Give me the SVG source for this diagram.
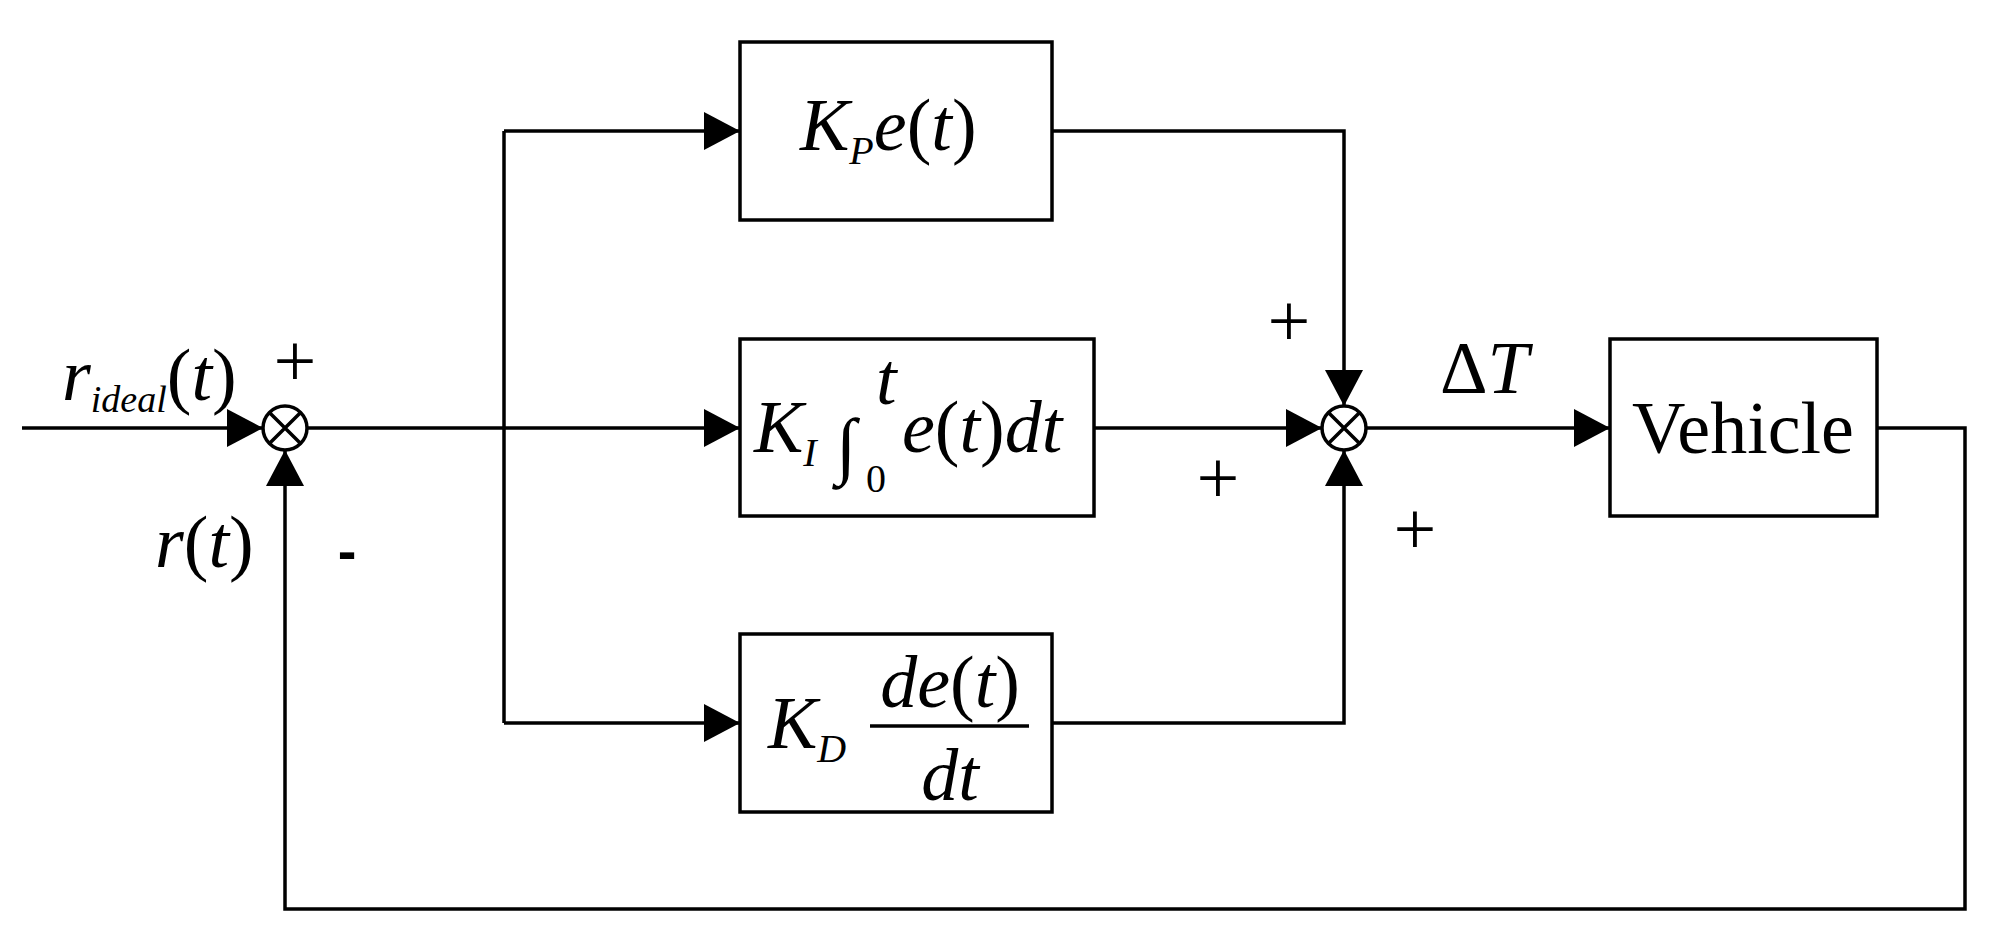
<svg xmlns="http://www.w3.org/2000/svg" width="2003" height="947" viewBox="0 0 2003 947">
<style>
.l{fill:none;stroke:#000;stroke-width:3.5}
.b{fill:#fff;stroke:#000;stroke-width:3.5}
text{font-family:'Liberation Serif','Times New Roman','DejaVu Serif',serif}
.m{font-style:italic;font-size:74px}
.r{font-size:74px}
.p{font-size:76px}
.n{font-style:normal}
</style>
<defs>
<marker id="a" markerWidth="36" markerHeight="38" refX="36" refY="19" orient="auto" markerUnits="userSpaceOnUse"><path d="M0,0L36,19L0,38z"/></marker>
</defs>
<rect width="2003" height="947" fill="#fff"/>
<g id="connectors">
<path class="l" d="M22,428H263" marker-end="url(#a)"/>
<path class="l" d="M307,428H504M504,428H740" marker-end="url(#a)"/>
<path class="l" d="M504,131V723"/>
<path class="l" d="M504,131H740" marker-end="url(#a)"/>
<path class="l" d="M504,723H740" marker-end="url(#a)"/>
<path class="l" d="M1052,131H1344V406" marker-end="url(#a)"/>
<path class="l" d="M1094,428H1322" marker-end="url(#a)"/>
<path class="l" d="M1052,723H1344V450" marker-end="url(#a)"/>
<path class="l" d="M1366,428H1610" marker-end="url(#a)"/>
<path class="l" d="M1877,428H1965V909H285V450" marker-end="url(#a)"/>
</g>
<g id="sum1"><circle class="b" cx="285" cy="428" r="22"/><path class="l" d="M269.4,412.4L300.6,443.6M300.6,412.4L269.4,443.6"/></g>
<g id="sum2"><circle class="b" cx="1344" cy="428" r="22"/><path class="l" d="M1328.4,412.4L1359.6,443.6M1359.6,412.4L1328.4,443.6"/></g>
<g id="kp"><rect class="b" x="740" y="42" width="312" height="178"/>
<text x="800" y="150" class="m">K<tspan font-size="40" dy="14">P</tspan><tspan dy="-14">e</tspan><tspan class="n">(</tspan>t<tspan class="n">)</tspan></text></g>
<g id="ki"><rect class="b" x="740" y="339" width="354" height="177"/>
<text x="754" y="452" class="m">K<tspan font-size="40" dy="14">I</tspan></text>
<text x="836" y="470" class="m" font-size="110">∫</text>
<text x="876" y="404" class="m" font-size="30">t</text>
<text x="866" y="492" font-size="40">0</text>
<text x="902" y="452" class="m">e<tspan class="n">(</tspan>t<tspan class="n">)</tspan>dt</text></g>
<g id="kd"><rect class="b" x="740" y="634" width="312" height="178"/>
<text x="768" y="748" class="m">K<tspan font-size="40" dy="14">D</tspan></text>
<text x="950" y="707" class="m" text-anchor="middle">de<tspan class="n">(</tspan>t<tspan class="n">)</tspan></text>
<path class="l" d="M870,726H1029"/>
<text x="950" y="800" class="m" text-anchor="middle">dt</text></g>
<g id="vehicle"><rect class="b" x="1610" y="339" width="267" height="177"/>
<text x="1743" y="453" class="r" font-size="80" text-anchor="middle">Vehicle</text></g>
<g id="labels">
<text x="62" y="400" class="m" font-size="68">r<tspan font-size="38" dy="12">ideal</tspan><tspan dy="-12" class="n">(</tspan>t<tspan class="n">)</tspan></text>
<text x="295" y="386" class="p" text-anchor="middle">+</text>
<text x="347" y="570" style="font-family:'Liberation Sans',sans-serif;font-weight:bold;font-size:56px" text-anchor="middle">-</text>
<text x="155" y="567" class="m">r<tspan class="n">(</tspan>t<tspan class="n">)</tspan></text>
<text x="1289" y="346" class="p" text-anchor="middle">+</text>
<text x="1218" y="503" class="p" text-anchor="middle">+</text>
<text x="1415" y="554" class="p" text-anchor="middle">+</text>
<text x="1440" y="393" class="r">Δ<tspan font-style="italic">T</tspan></text>
</g>
</svg>
